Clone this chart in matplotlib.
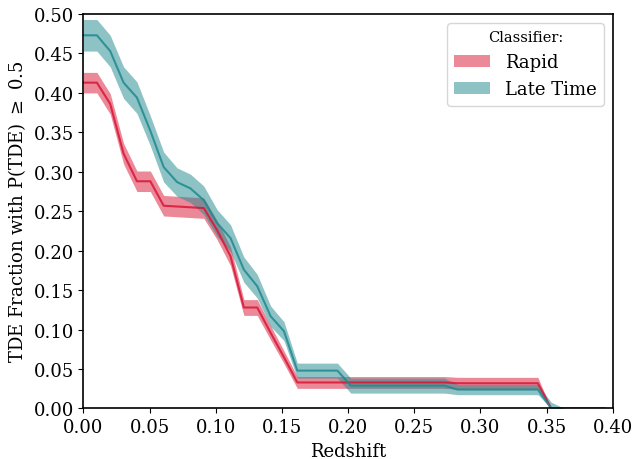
#!/usr/bin/env python3
"""
TDE fraction vs redshift for the two classifiers
"""
import numpy as np
import matplotlib
matplotlib.use('Agg')
import matplotlib.pyplot as plt

plt.rcParams['font.family'] = 'DejaVu Serif'
plt.rcParams['mathtext.fontset'] = 'dejavuserif'
plt.rcParams['font.size'] = 13

# redshift grid (first 40 points of linspace(0, 1, 100))
redshift = np.linspace(0, 1, 100)[:40]

rapid = [0.413, 0.413, 0.386, 0.323, 0.288, 0.288, 0.257, 0.256, 0.255, 0.254,
         0.226, 0.193, 0.128, 0.128, 0.096, 0.065, 0.033, 0.033, 0.033, 0.033,
         0.033, 0.033, 0.033, 0.033, 0.033, 0.033, 0.033, 0.033, 0.032, 0.032,
         0.032, 0.032, 0.032, 0.032, 0.032, 0.0, 0.0, 0.0, 0.0, 0.0]
rapid_err = [0.013, 0.013, 0.013, 0.013, 0.013, 0.013, 0.013, 0.013, 0.013, 0.013,
             0.012, 0.012, 0.010, 0.010, 0.009, 0.008, 0.0075, 0.0075, 0.0075, 0.0075,
             0.0075, 0.0075, 0.0075, 0.0075, 0.0075, 0.0075, 0.0075, 0.0075, 0.0075, 0.0075,
             0.0075, 0.0075, 0.0075, 0.0075, 0.0075, 0.0, 0.0, 0.0, 0.0, 0.0]

late = [0.473, 0.473, 0.453, 0.413, 0.394, 0.352, 0.306, 0.287, 0.279, 0.264,
        0.235, 0.216, 0.176, 0.155, 0.117, 0.098, 0.048, 0.048, 0.048, 0.048,
        0.029, 0.029, 0.029, 0.029, 0.029, 0.029, 0.029, 0.029, 0.024, 0.024,
        0.024, 0.024, 0.024, 0.024, 0.024, 0.0, 0.0, 0.0, 0.0, 0.0]
late_err = [0.020, 0.020, 0.020, 0.020, 0.020, 0.019, 0.019, 0.018, 0.018, 0.018,
            0.017, 0.017, 0.016, 0.015, 0.013, 0.012, 0.0095, 0.0095, 0.0095, 0.0095,
            0.0095, 0.0095, 0.0095, 0.0095, 0.0095, 0.0095, 0.0095, 0.0095, 0.0065, 0.0065,
            0.0065, 0.0065, 0.0065, 0.0065, 0.0065, 0.008, 0.0, 0.0, 0.0, 0.0]


def band(ax, x, y, err, color, label):
  y = np.array(y)
  err = np.array(err)
  lo = np.clip(y - err, 0, None)
  ax.fill_between(x, lo, y + err, color=color, alpha=0.5, lw=0, label=label)
  ax.plot(x, y, color=color, lw=1.5, alpha=0.85)


fig = plt.figure(figsize=(6.34, 4.6), dpi=100)
ax = fig.add_axes([0.1317, 0.1098, 0.9664 - 0.1317, 0.9674 - 0.1098])
band(ax, redshift, rapid, rapid_err, '#d91535', 'Rapid')
band(ax, redshift, late, late_err, '#1f898f', 'Late Time')

ax.set_xlim(0, 0.4)
ax.set_ylim(0, 0.5)
ax.set_xticks(np.arange(0, 0.401, 0.05))
ax.set_yticks(np.arange(0, 0.501, 0.05))
ax.set_xlabel('Redshift')
ax.set_ylabel(r'TDE Fraction with P(TDE) $\geq$ 0.5')
for s in ax.spines.values():
  s.set_linewidth(1.2)
ax.legend(title='Classifier:', loc='upper right', fontsize=13, title_fontsize=10.5)

fig.savefig('out.png', dpi=100)
